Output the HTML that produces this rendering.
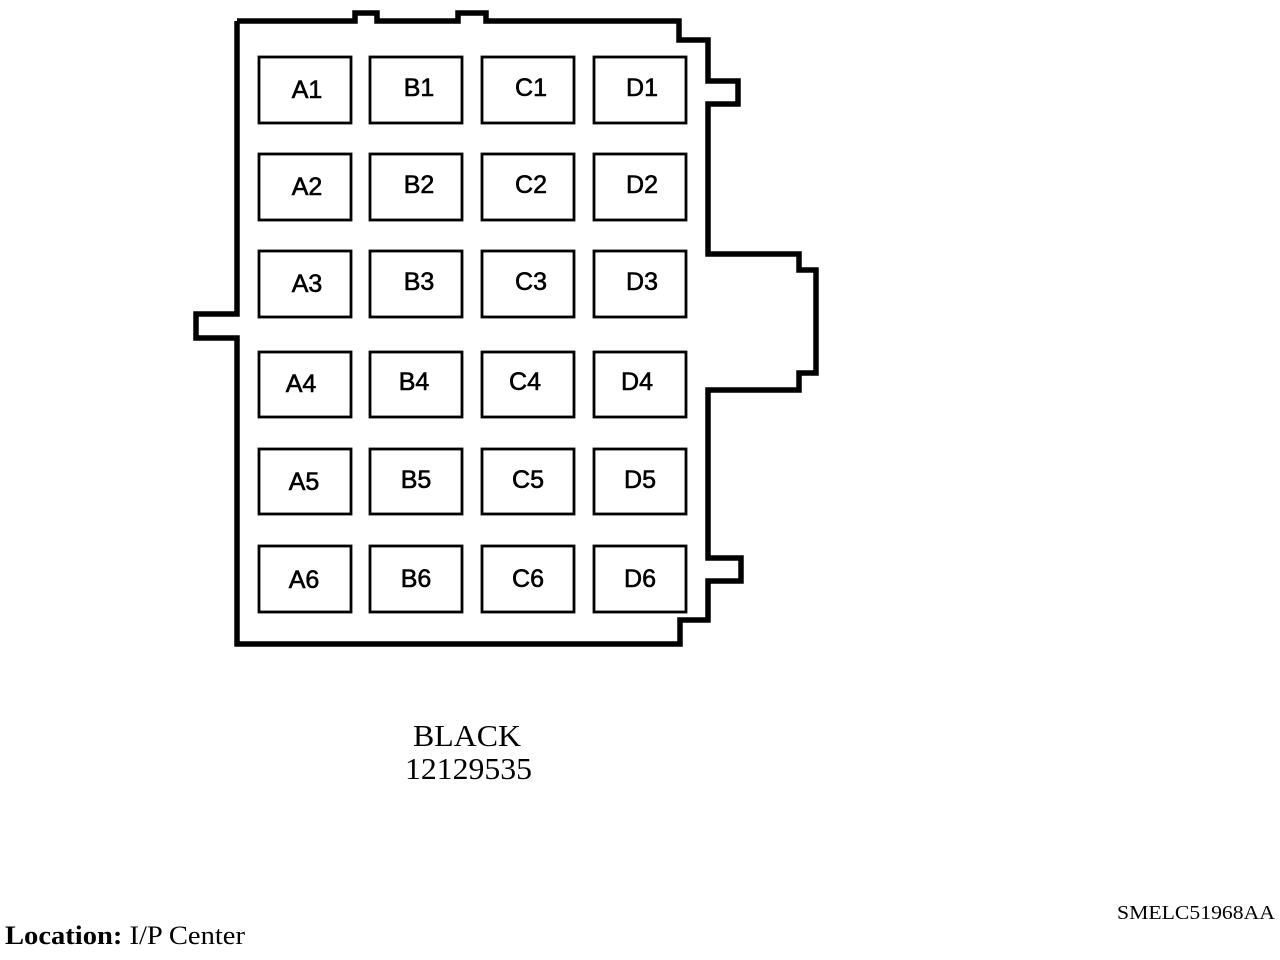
<!DOCTYPE html>
<html><head><meta charset="utf-8"><style>html,body{margin:0;padding:0;background:#fff;}svg{display:block}</style></head>
<body>
<svg width="1280" height="960" viewBox="0 0 1280 960" xmlns="http://www.w3.org/2000/svg">
<polyline fill="none" stroke="#000" stroke-width="5.5" stroke-linejoin="miter" points="237,21 355,21 355,13 377,13 377,21 458,21 458,13 486,13 486,21 679,21 679,40 708,40 708,81 738,81 738,104 708,104 708,254 799,254 799,270 816,270 816,373 799,373 799,390 708,390 708,558 741,558 741,581 708,581 708,620 680,620 680,644 237,644 237,338 196,338 196,314 237,314 237,21"/>
<g fill="none" stroke="#000" stroke-width="2.8">
<rect x="259" y="57" width="92" height="66"/><rect x="370" y="57" width="92" height="66"/><rect x="482" y="57" width="92" height="66"/><rect x="594" y="57" width="92" height="66"/>
<rect x="259" y="154" width="92" height="66"/><rect x="370" y="154" width="92" height="66"/><rect x="482" y="154" width="92" height="66"/><rect x="594" y="154" width="92" height="66"/>
<rect x="259" y="251" width="92" height="66"/><rect x="370" y="251" width="92" height="66"/><rect x="482" y="251" width="92" height="66"/><rect x="594" y="251" width="92" height="66"/>
<rect x="259" y="352" width="92" height="65"/><rect x="370" y="352" width="92" height="65"/><rect x="482" y="352" width="92" height="65"/><rect x="594" y="352" width="92" height="65"/>
<rect x="259" y="449" width="92" height="65"/><rect x="370" y="449" width="92" height="65"/><rect x="482" y="449" width="92" height="65"/><rect x="594" y="449" width="92" height="65"/>
<rect x="259" y="546" width="92" height="66"/><rect x="370" y="546" width="92" height="66"/><rect x="482" y="546" width="92" height="66"/><rect x="594" y="546" width="92" height="66"/>
</g>
<g font-family="Liberation Sans, sans-serif" font-size="25" text-anchor="middle" fill="#000" stroke="#000" stroke-width="0.6">
<text x="307" y="98">A1</text><text x="419" y="96">B1</text><text x="531" y="96">C1</text><text x="642" y="96">D1</text>
<text x="307" y="195">A2</text><text x="419" y="193">B2</text><text x="531" y="193">C2</text><text x="642" y="193">D2</text>
<text x="307" y="292">A3</text><text x="419" y="290">B3</text><text x="531" y="290">C3</text><text x="642" y="290">D3</text>
<text x="301" y="392">A4</text><text x="414" y="390">B4</text><text x="525" y="390">C4</text><text x="637" y="390">D4</text>
<text x="304" y="490">A5</text><text x="416" y="488">B5</text><text x="528" y="488">C5</text><text x="640" y="488">D5</text>
<text x="304" y="588">A6</text><text x="416" y="587">B6</text><text x="528" y="587">C6</text><text x="640" y="587">D6</text>
</g>
<g font-family="Liberation Serif, serif" fill="#000">
<text x="413" y="746" font-size="31" textLength="108" lengthAdjust="spacingAndGlyphs">BLACK</text>
<text x="405" y="779" font-size="31" textLength="127" lengthAdjust="spacingAndGlyphs">12129535</text>
<text x="1117" y="919" font-size="20" textLength="158" lengthAdjust="spacingAndGlyphs">SMELC51968AA</text>
<text x="5" y="944" font-size="26" textLength="240" lengthAdjust="spacingAndGlyphs"><tspan font-weight="bold">Location:</tspan> I/P Center</text>
</g>
</svg>
</body></html>
